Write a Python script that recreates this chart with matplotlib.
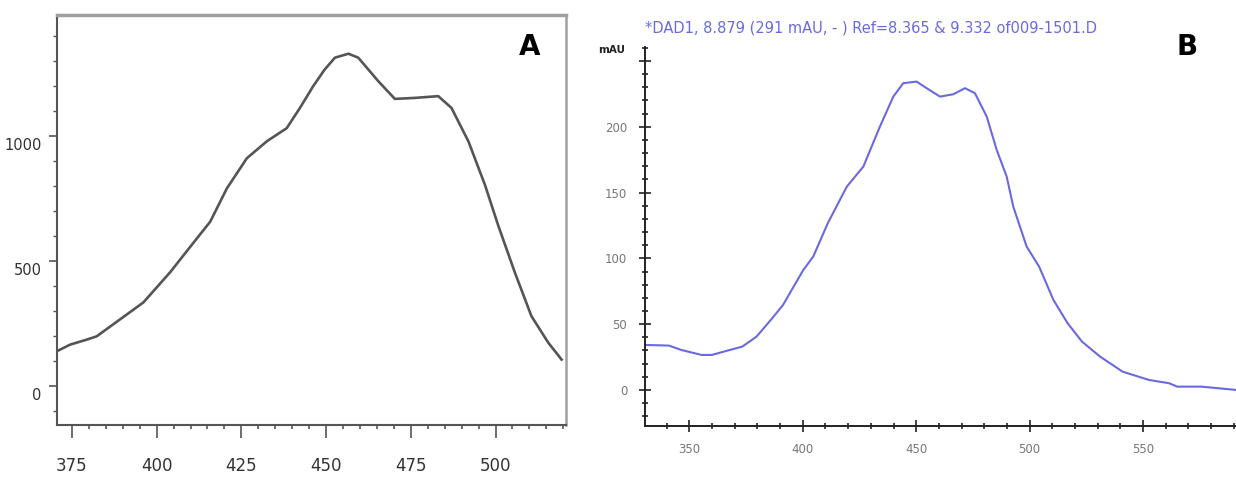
import matplotlib
matplotlib.use("Agg")
import matplotlib.pyplot as plt
from matplotlib.ticker import MultipleLocator, FixedLocator
import matplotlib.transforms as mtransforms

# ---- Panel A data ----
a_wavelength = [370.5, 374.5, 379.4, 382.3, 389.2, 396.1, 404.0, 411.8, 415.8, 420.7,
                426.6, 432.5, 438.4, 442.3, 446.2, 449.5, 452.6, 456.6, 459.5,
                465.4, 470.3, 476.2, 483.1, 487.0, 492.0, 496.9, 500.8, 505.7,
                510.6, 515.6, 519.5]
a_intensity = [138, 165, 185, 198, 266, 334, 455, 589, 657, 790,
               911, 979, 1032, 1113, 1200, 1265, 1314, 1330, 1314,
               1220, 1149, 1153, 1160, 1113, 979, 804, 642, 454,
               279, 172, 105]
a_xticks = [375, 400, 425, 450, 475, 500]
a_yticks = [0, 500, 1000]

# ---- Panel B data ----
b_wavelength = [330.6, 341.0, 346.4, 355.4, 359.9, 367.9, 373.3, 379.6, 385.9, 391.3,
                400.2, 404.6, 411.0, 419.4, 426.7, 434.0, 439.9, 444.3, 450.2, 454.6,
                460.5, 466.4, 471.5, 475.9, 481.1, 485.5, 489.9, 492.8, 498.7, 504.2,
                510.5, 516.8, 523.1, 531.1, 541.0, 552.6, 561.5, 565.1, 575.9, 591.0]
b_mau = [34.2, 33.7, 30.4, 26.6, 26.6, 30.4, 32.9, 40.5, 53.2, 64.6,
         91.1, 101.3, 126.6, 154.5, 169.7, 200.1, 222.9, 233.1, 234.3, 229.3,
         222.9, 224.7, 229.3, 225.5, 207.7, 182.4, 162.1, 139.3, 108.9, 93.7,
         68.4, 50.6, 36.7, 25.3, 13.9, 7.6, 5.1, 2.5, 2.5, 0.0]
b_xticks = [350, 400, 450, 500, 550]
b_yticks = [0, 50, 100, 150, 200, 250]
b_yticklabels = ["0", "50", "100", "150", "200", ""]
b_title = "*DAD1, 8.879 (291 mAU, - ) Ref=8.365 & 9.332 of009-1501.D"

fig = plt.figure(figsize=(12.36, 4.87), dpi=100)

# ---------------- Panel A ----------------
axA = fig.add_axes([57/1236, 1-425/487, (566-57)/1236, (425-15)/487])
axA.plot(a_wavelength, a_intensity, color="#555555", lw=1.9, solid_joinstyle="round")
axA.set_xlim(370.6, 520.8)
axA.set_ylim(-157, 1485)
axA.xaxis.set_major_locator(FixedLocator(a_xticks))
axA.xaxis.set_minor_locator(MultipleLocator(5))
axA.yaxis.set_major_locator(FixedLocator(a_yticks))
axA.yaxis.set_minor_locator(MultipleLocator(100))
for side in ["left", "bottom"]:
    axA.spines[side].set_color("#555555")
    axA.spines[side].set_linewidth(1.5)
axA.spines["top"].set_color("#a0a0a0")
axA.spines["top"].set_linewidth(2.5)
axA.spines["right"].set_color("#a0a0a0")
axA.spines["right"].set_linewidth(1.8)
axA.tick_params(axis="x", which="major", direction="out", length=9, width=1.2,
                color="#555555", pad=14, labelsize=12, labelcolor="#333333")
axA.tick_params(axis="x", which="minor", direction="out", length=3, width=1.2,
                color="#555555")
axA.tick_params(axis="y", which="major", direction="out", length=6, width=1.2,
                color="#555555", pad=5, labelsize=10.5, labelcolor="#333333")
axA.tick_params(axis="y", which="minor", direction="out", length=3, width=1,
                color="#555555")
off = mtransforms.ScaledTranslation(0, -8/100, fig.dpi_scale_trans)
for lab in axA.get_yticklabels():
    lab.set_transform(lab.get_transform() + off)
fig.text(530/1236, 1-47/487, "A", fontsize=20, fontweight="bold",
         ha="center", va="center", color="black")

# ---------------- Panel B ----------------
axB = fig.add_axes([644.7/1236, 1-426/487, (1236-644.7)/1236, (426-47)/487])
axB.plot(b_wavelength, b_mau, color="#6a6ae0", lw=1.5, solid_joinstyle="round")
axB.set_xlim(330.3, 591.0)
axB.set_ylim(-27.4, 260.6)
axB.spines["top"].set_visible(False)
axB.spines["right"].set_visible(False)
for side in ["left", "bottom"]:
    axB.spines[side].set_color("#222222")
    axB.spines[side].set_linewidth(1.4)
axB.xaxis.set_major_locator(FixedLocator(b_xticks))
axB.xaxis.set_minor_locator(MultipleLocator(10))
axB.yaxis.set_major_locator(FixedLocator(b_yticks))
axB.yaxis.set_minor_locator(MultipleLocator(10))
axB.set_yticklabels(b_yticklabels)
axB.tick_params(axis="both", which="major", direction="inout", length=9, width=1.2,
                color="#222222", labelsize=8.5, labelcolor="#777777")
axB.tick_params(axis="both", which="minor", direction="inout", length=4, width=1.2,
                color="#222222")
axB.tick_params(axis="x", which="major", pad=8)
axB.tick_params(axis="y", which="major", pad=8)
fig.text(612/1236, 1-50/487, "mAU", fontsize=7.5, fontweight="bold",
         ha="center", va="center", color="#222222")
fig.text(645/1236, 1-28/487, b_title, fontsize=10.5, color="#6a6ae0",
         ha="left", va="center")
fig.text(1187/1236, 1-47/487, "B", fontsize=20, fontweight="bold",
         ha="center", va="center", color="black")

fig.savefig("out.png", dpi=100)
